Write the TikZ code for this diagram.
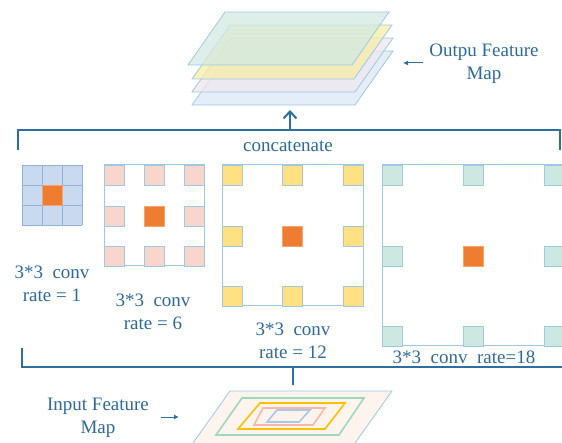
\documentclass[tikz,border=0pt]{standalone}
\usepackage{fontspec}
\setmainfont{Liberation Serif}
\usetikzlibrary{arrows.meta}
\definecolor{ink}{HTML}{2D6A9B}
\definecolor{wire}{HTML}{2E6FA3}
\definecolor{edge}{HTML}{9DC8E6}
\definecolor{gridfill}{HTML}{C9DAF0}
\definecolor{gridline}{HTML}{8FB2D8}
\definecolor{hot}{HTML}{EE7D31}
\definecolor{pinkcell}{HTML}{F8D6CC}
\definecolor{yellowcell}{HTML}{FFE083}
\definecolor{mintcell}{HTML}{CDE7E1}
\definecolor{layerA}{HTML}{D3EAE3}
\definecolor{layerB}{HTML}{F6EEA6}
\definecolor{layerC}{HTML}{EFE7EE}
\definecolor{layerD}{HTML}{DCE7F6}
\definecolor{mapfill}{HTML}{FDF4EE}
\definecolor{ringgreen}{HTML}{9FD6BF}
\definecolor{ringyellow}{HTML}{FFC000}
\definecolor{ringpink}{HTML}{F4B9A8}
\definecolor{ringblue}{HTML}{A9C7EA}
\tikzset{
  label/.style={text=ink, align=center, inner sep=0pt},
  bracket/.style={draw=wire, line width=2pt},
  panel/.style={draw=edge, line width=1pt},
  cellbox/.style={draw=edge, line width=0.8pt},
  hotcell/.style={fill=hot, draw=hot!70!white, line width=0.6pt},
  layer/.style={draw=edge, line width=0.8pt, fill opacity=0.75},
  ring/.style={line width=1.6pt},
}
\newcommand{\sqcell}[3]{\draw[cellbox, fill=#3] (#1,#2) rectangle ++(20,20);}
\begin{document}
\begin{tikzpicture}[x=1pt, y=-1pt, font=\fontsize{19}{23}\selectfont]
\useasboundingbox (0,0) rectangle (562,443);

% ---- output feature map: stacked layers, bottom to top
\draw[layer, fill=layerD] (192,105) -- (355,105) -- (393,51) -- (230,51) -- cycle;
\draw[layer, fill=layerC] (192,92) -- (355,92) -- (393,38) -- (230,38) -- cycle;
\draw[layer, fill=layerB] (192,79) -- (354,79) -- (392,25) -- (230,25) -- cycle;
\draw[layer, fill=layerA] (188,65) -- (352,65) -- (389,12) -- (225,12) -- cycle;
\coordinate (outBottom) at (290,110);

\node[label] (outLabel) at (484,64) {Outpu Feature\\Map};
\coordinate (outTip) at (403,63);
\coordinate (outTail) at (423,63);
\draw[wire, line width=1pt, -{Latex[length=5pt,width=5pt]}] (outTail) -- (outTip);

% ---- concatenate bracket
\coordinate (catMid) at (290,130);
\draw[bracket] (18,150) -- (18,130) -- (560,130) -- (560,150);
\draw[wire, line width=2pt, -{Straight Barb[length=7pt,width=13pt]}] (catMid) -- (outBottom);
\node[label] (catLabel) at (288,146) {concatenate};

% ---- rate 1: dense 3x3 kernel
\fill[gridfill] (22,165) rectangle (82,225);
\foreach \g in {22,42,62,82} {
  \draw[gridline, line width=0.8pt] (\g,165) -- (\g,225);
  \draw[gridline, line width=0.8pt] (22,\g+143) -- (82,\g+143);
}
\draw[hotcell] (42,185) rectangle ++(20,20);
\node[label] (convA) at (52,284) {3*3\ \ conv\\rate = 1};

% ---- rate 6
\draw[panel, fill=white] (104,165) rectangle (204,266);
\foreach \cx in {104,144,184}
  \foreach \cy in {165,206,246}
    {\sqcell{\cx}{\cy}{pinkcell}}
\draw[hotcell] (144,206) rectangle ++(20,20);
\node[label] (convB) at (153,312) {3*3\ \ conv\\rate = 6};

% ---- rate 12
\draw[panel, fill=white] (222,165) rectangle (363,306);
\foreach \cx in {222,282,343}
  \foreach \cy in {165,226,286}
    {\sqcell{\cx}{\cy}{yellowcell}}
\draw[hotcell] (282,226) rectangle ++(20,20);
\node[label] (convC) at (293,341) {3*3\ \ conv\\rate = 12};

% ---- rate 18
\draw[panel, fill=white] (382,165) rectangle (564,346);
\foreach \cx in {382,463,544}
  \foreach \cy in {165,246,326}
    {\sqcell{\cx}{\cy}{mintcell}}
\draw[hotcell] (463,246) rectangle ++(20,20);
\node[label] (convD) at (464,357) {3*3\ \ conv\ \ rate=18};

% ---- input bracket
\coordinate (inTop) at (293,385);
\coordinate (inMid) at (293,367);
\draw[bracket] (22,348) -- (22,367) -- (562,367);
\draw[bracket] (inMid) -- (inTop);

% ---- input feature map
\draw[draw=edge, line width=0.8pt, fill=mapfill] (193,443) -- (230,391) -- (392,391) -- (355,443);
\draw[ring, draw=ringgreen] (216,435) -- (242,398) -- (364,398) -- (339,435) -- cycle;
\draw[ring, draw=ringyellow] (238,429) -- (260,403) -- (345,403) -- (325,429) -- cycle;
\draw[ring, draw=ringpink] (254,425) -- (263,408) -- (325,408) -- (313,425) -- cycle;
\draw[ring, draw=ringblue] (267,422) -- (277,410) -- (310,410) -- (299,422) -- cycle;

\node[label] (inLabel) at (98,418) {Input Feature\\Map};
\coordinate (inTail) at (161,417);
\coordinate (inHead) at (179,417);
\draw[wire, line width=1pt, -{Latex[length=5pt,width=5pt]}] (inTail) -- (inHead);
\end{tikzpicture}
\end{document}
